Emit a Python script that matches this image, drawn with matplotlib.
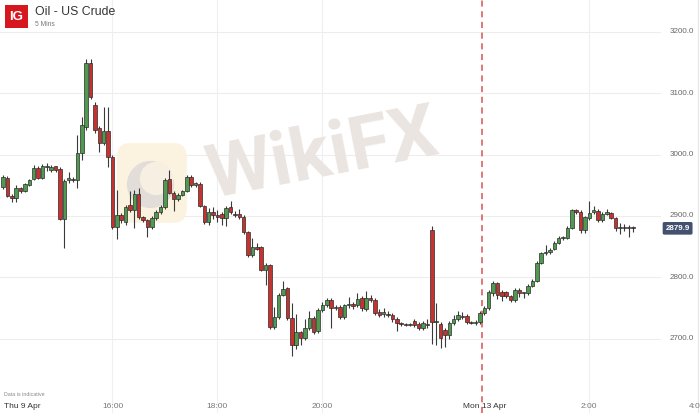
import matplotlib
matplotlib.use("Agg")
import matplotlib.pyplot as plt
from matplotlib.patches import FancyBboxPatch, Rectangle
import numpy as np

# ---------------- data (5-min candles, Oil - US Crude) ----------------
opens = [2947, 2962, 2933, 2930, 2946, 2941, 2951, 2960, 2978, 2962,
         2980, 2975, 2981, 2976, 2895, 2958, 2961, 2959, 3003, 3045,
         3149, 3081, 3043, 3019, 3038, 2996, 2882, 2902, 2890, 2918,
         2910, 2936, 2898, 2893, 2882, 2897, 2906, 2914, 2961, 2937,
         2928, 2934, 2941, 2963, 2951, 2952, 2916, 2890, 2906, 2902,
         2903, 2897, 2914, 2904, 2904, 2899, 2874, 2837, 2850, 2849,
         2812, 2820, 2719, 2735, 2771, 2783, 2734, 2690, 2711, 2701,
         2718, 2734, 2712, 2747, 2755, 2763, 2750, 2752, 2736, 2755,
         2756, 2755, 2766, 2749, 2766, 2763, 2743, 2741, 2741, 2739,
         2733, 2725, 2723, 2722, 2729, 2724, 2717, 2723, 2877, 2727,
         2724, 2714, 2706, 2726, 2732, 2737, 2737, 2727, 2726, 2727,
         2742, 2750, 2775, 2791, 2776, 2776, 2770, 2763, 2779, 2775,
         2774, 2786, 2794, 2823, 2840, 2842, 2846, 2856, 2864, 2864,
         2881, 2910, 2907, 2877, 2897, 2906, 2908, 2893, 2904, 2905,
         2897, 2881, 2882, 2881, 2882]
highs = [2967, 2965, 2936, 2950, 2948, 2954, 2961, 2983, 2982, 2984,
         2987, 2983, 2982, 2979, 2960, 2971, 2964, 3032, 3061, 3156,
         3156, 3085, 3046, 3078, 3077, 2999, 2942, 2905, 2918, 2940,
         2942, 2946, 2900, 2895, 2900, 2910, 2918, 2962, 2975, 2940,
         2937, 2943, 2966, 2967, 2956, 2955, 2918, 2913, 2915, 2910,
         2906, 2917, 2924, 2908, 2912, 2902, 2876, 2864, 2856, 2851,
         2823, 2822, 2751, 2774, 2794, 2785, 2758, 2740, 2713, 2733,
         2745, 2737, 2750, 2760, 2766, 2766, 2755, 2755, 2757, 2768,
         2760, 2775, 2770, 2778, 2771, 2766, 2749, 2750, 2746, 2742,
         2736, 2727, 2726, 2726, 2732, 2727, 2729, 2733, 2884, 2758,
         2727, 2717, 2729, 2738, 2745, 2744, 2740, 2729, 2730, 2745,
         2754, 2779, 2794, 2793, 2779, 2778, 2772, 2782, 2782, 2777,
         2789, 2797, 2826, 2842, 2852, 2848, 2859, 2867, 2868, 2883,
         2912, 2912, 2909, 2900, 2924, 2917, 2911, 2907, 2911, 2907,
         2899, 2888, 2887, 2885, 2883]
lows = [2944, 2931, 2923, 2922, 2938, 2939, 2949, 2958, 2960, 2960,
        2973, 2972, 2972, 2893, 2848, 2953, 2955, 2946, 2991, 3040,
        3090, 3035, 3005, 3015, 2980, 2878, 2862, 2889, 2885, 2906,
        2880, 2895, 2890, 2866, 2878, 2893, 2903, 2912, 2935, 2908,
        2925, 2932, 2939, 2948, 2947, 2914, 2887, 2885, 2895, 2890,
        2885, 2883, 2903, 2898, 2895, 2871, 2833, 2833, 2845, 2810,
        2787, 2716, 2716, 2733, 2769, 2731, 2672, 2684, 2690, 2698,
        2715, 2708, 2709, 2744, 2752, 2717, 2747, 2733, 2733, 2750,
        2748, 2752, 2745, 2746, 2760, 2739, 2735, 2736, 2735, 2728,
        2712, 2721, 2720, 2720, 2719, 2714, 2714, 2717, 2692, 2690,
        2685, 2686, 2700, 2722, 2729, 2732, 2724, 2724, 2723, 2724,
        2738, 2747, 2770, 2765, 2762, 2766, 2760, 2760, 2768, 2766,
        2772, 2784, 2792, 2821, 2837, 2838, 2844, 2854, 2861, 2862,
        2879, 2904, 2873, 2872, 2894, 2903, 2890, 2890, 2902, 2895,
        2876, 2870, 2876, 2866, 2874]
closes = [2963, 2933, 2930, 2946, 2940, 2952, 2959, 2978, 2962, 2981,
          2982, 2979, 2975, 2895, 2957, 2962, 2959, 3003, 3048, 3149,
          3094, 3040, 3019, 3038, 2996, 2882, 2902, 2893, 2915, 2910,
          2936, 2898, 2894, 2882, 2897, 2907, 2915, 2959, 2937, 2928,
          2934, 2941, 2963, 2950, 2954, 2916, 2890, 2906, 2902, 2899,
          2897, 2913, 2906, 2902, 2898, 2874, 2837, 2850, 2847, 2812,
          2820, 2719, 2735, 2771, 2781, 2734, 2690, 2711, 2701, 2718,
          2734, 2711, 2747, 2755, 2763, 2750, 2752, 2736, 2755, 2757,
          2754, 2765, 2750, 2766, 2763, 2742, 2738, 2743, 2739, 2732,
          2726, 2724, 2722, 2724, 2722, 2717, 2726, 2722, 2727, 2729,
          2701, 2706, 2726, 2732, 2739, 2736, 2727, 2726, 2727, 2742,
          2750, 2776, 2791, 2771, 2770, 2770, 2763, 2779, 2775, 2774,
          2786, 2794, 2823, 2840, 2842, 2845, 2856, 2864, 2865, 2881,
          2910, 2907, 2877, 2898, 2905, 2909, 2893, 2904, 2906, 2897,
          2880, 2882, 2881, 2882, 2879.9]

price_ticks = [2700, 2800, 2900, 3000, 3100, 3200]
time_tick_pos = [1, 25, 49, 73, 110, 134, 158]
time_tick_labels = ["Thu 9 Apr", "16:00", "18:00", "20:00", "Mon 13 Apr", "2:00", "4:0"]
session_break = 109.5
last_price = 2879.9

# ---------------- figure ----------------
W, H = 700, 413
fig = plt.figure(figsize=(W / 100, H / 100), dpi=100)
ax = fig.add_axes([0, 0, 1, 1])
ax.set_xlim(-0.71, 159.3)
ax.set_ylim(2579.1, 3251.8)
ax.axis("off")

def px_y(y):
    return 1 - y / H

# grid
for p in price_ticks:
    ax.plot([-0.71, 150.2], [p, p], color="#ededed", lw=0.8, zorder=0)
for t in [25, 49, 73, 134]:
    ax.axvline(t, color="#efefef", lw=0.8, zorder=0)
ax.axvline(158.8, color="#e6e6e6", lw=0.8, zorder=0)

# watermark
logo = FancyBboxPatch((26, 2889), 16, 130, boxstyle="round,pad=0,rounding_size=3",
                      transform=ax.transData, facecolor="#fbf3de", edgecolor="none",
                      alpha=0.95, zorder=0.5, mutation_aspect=8)
ax.add_patch(logo)
ax.plot([33.6], [2952], "o", ms=34, color="#e2ddd9", mec="none", zorder=0.6)
ax.plot([35.0], [2962], "o", ms=24, color="#f6efe2", mec="none", zorder=0.7)
ax.text(73, 2998, "WikiFX", fontsize=54, fontweight="bold", family="Roboto",
        color="#ebe5e2", ha="center", va="center", rotation=11, zorder=0.6)

# session break
ax.axvline(session_break, color="#d9534f", lw=1.1, ls=(0, (4, 3)), zorder=1)

# candles
o = np.array(opens, float)
h = np.array(highs, float)
l = np.array(lows, float)
c = np.array(closes, float)
idx = np.arange(len(o))
up = c >= o
ax.vlines(idx, l, h, color="#3a3a3a", lw=0.8, zorder=2)
bottom = np.minimum(o, c)
height = np.maximum(np.abs(c - o), 1.6)
ax.bar(idx[up], height[up], bottom=bottom[up], width=0.8, color="#4f9a4f",
       edgecolor="#2c2c2c", linewidth=0.5, zorder=3)
ax.bar(idx[~up], height[~up], bottom=bottom[~up], width=0.8, color="#c7322f",
       edgecolor="#2c2c2c", linewidth=0.5, zorder=3)

# price labels
for p in price_ticks:
    ax.text(0.991, p, f"{p:.1f}", transform=ax.get_yaxis_transform(),
            ha="right", va="center", fontsize=5.8, color="#666666", family="Liberation Sans")
ax.text(0.968, last_price, f"{last_price:.1f}", transform=ax.get_yaxis_transform(),
        ha="center", va="center", fontsize=5.8, color="white", fontweight="bold",
        family="Liberation Sans", zorder=6,
        bbox=dict(boxstyle="round,pad=0.35,rounding_size=0.2", facecolor="#44516e",
                  edgecolor="none"))

# time labels
for pos, lab in zip(time_tick_pos, time_tick_labels):
    dark = lab.startswith("Thu") or lab.startswith("Mon")
    if lab.startswith("Thu"):
        ax.text(4 / W, px_y(406), lab, transform=ax.transAxes, ha="left", va="center",
                fontsize=6, color="#333333", family="Liberation Sans")
    else:
        ax.text(pos, px_y(406), lab, transform=ax.get_xaxis_transform(), ha="center",
                va="center", fontsize=6, color="#333333" if dark else "#777777",
                family="Liberation Sans")
ax.text(4 / W, px_y(395), "Data is indicative", transform=ax.transAxes, ha="left",
        va="center", fontsize=3.8, color="#888888", family="Liberation Sans")

# header
fig.patches.append(Rectangle((5 / W, 1 - 28 / H), 23 / W, 23 / H, transform=fig.transFigure,
                             facecolor="#d6171e", edgecolor="none", zorder=5))
fig.text(16.5 / W, 1 - 17 / H, "IG", color="white", fontsize=9.5, fontweight="bold",
         ha="center", va="center", family="Liberation Sans", zorder=6)
fig.text(35 / W, 1 - 12 / H, "Oil - US Crude", fontsize=8.8, color="#333333",
         ha="left", va="center", family="Liberation Sans")
fig.text(35 / W, 1 - 24.5 / H, "5 Mins", fontsize=4.8, color="#777777",
         ha="left", va="center", family="Liberation Sans")

fig.savefig("out.png", dpi=100)
